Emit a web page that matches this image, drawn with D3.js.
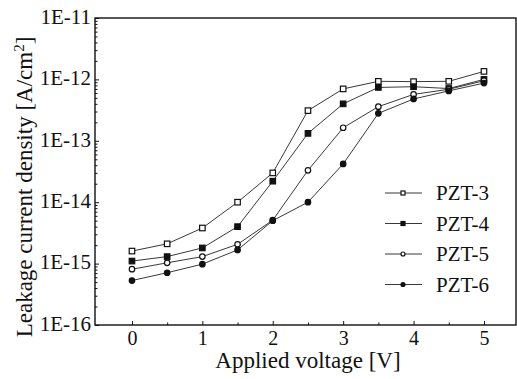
<!DOCTYPE html>
<html>
<head>
<meta charset="utf-8">
<script src="https://cdn.jsdelivr.net/npm/d3@7"></script>
<style>
  body { margin: 0; background: #fff; }
  svg text { font-family: "Liberation Serif", "Times New Roman", serif; fill: #111; }
</style>
</head>
<body>
<div id="chart"></div>
<script>
// Data
const VOLTAGES = [0, 0.5, 1, 1.5, 2, 2.5, 3, 3.5, 4, 4.5, 5];
const PZT3 = [1.6e-15, 2.1e-15, 3.8e-15, 1.0e-14, 3.0e-14, 3.1e-13, 7.0e-13, 9.3e-13, 9.2e-13, 9.3e-13, 1.35e-12];
const PZT4 = [1.1e-15, 1.3e-15, 1.8e-15, 4.0e-15, 2.2e-14, 1.32e-13, 4.0e-13, 7.4e-13, 7.6e-13, 7.1e-13, 1.0e-12];
const PZT5 = [8.1e-16, 1.03e-15, 1.3e-15, 2.06e-15, 5.1e-15, 3.3e-14, 1.63e-13, 3.6e-13, 5.7e-13, 6.9e-13, 9.5e-13];
const PZT6 = [5.3e-16, 7.1e-16, 9.8e-16, 1.67e-15, 5.0e-15, 1.0e-14, 4.2e-14, 2.8e-13, 4.8e-13, 6.5e-13, 8.7e-13];
const SERIES_NAMES = ["PZT-3", "PZT-4", "PZT-5", "PZT-6"];
const X_TICKS = [0, 1, 2, 3, 4, 5];
const Y_TICKS = [1e-16, 1e-15, 1e-14, 1e-13, 1e-12, 1e-11];

const W = 517, H = 379;
const MARGIN = { LEFT: 95, RIGHT: 1, TOP: 18, BOTTOM: 54 };
const PW = W - MARGIN.LEFT - MARGIN.RIGHT;
const PH = H - MARGIN.TOP - MARGIN.BOTTOM;
const SERIF = '"Liberation Serif", "Times New Roman", serif';

const series = [
  { name: SERIES_NAMES[0], values: PZT3, shape: "square", filled: false },
  { name: SERIES_NAMES[1], values: PZT4, shape: "square", filled: true },
  { name: SERIES_NAMES[2], values: PZT5, shape: "circle", filled: false },
  { name: SERIES_NAMES[3], values: PZT6, shape: "circle", filled: true }
];

const svg = d3.select("#chart").append("svg").attr("width", W).attr("height", H);
const g = svg.append("g").attr("transform", `translate(${MARGIN.LEFT},${MARGIN.TOP})`);

const x = d3.scaleLinear().domain([-0.525, 5.455]).range([0, PW]);
const y = d3.scaleLog().domain([1e-16, 1e-11]).range([PH, 0]);

// frame
g.append("rect").attr("width", PW).attr("height", PH)
  .attr("fill", "none").attr("stroke", "#111").attr("stroke-width", 1.4);

// x axis: major ticks with labels, minor at halves, pointing inward
const xAxis = d3.axisBottom(x).tickValues(X_TICKS).tickSize(-4).tickPadding(6).tickFormat(d3.format("d"));
const xg = g.append("g").attr("transform", `translate(0,${PH})`).call(xAxis);
xg.select(".domain").remove();
xg.selectAll("line").attr("stroke", "#111");
xg.selectAll("text").style("font-family", SERIF).style("font-size", "20px").attr("fill", "#111");
const xMinor = g.append("g").attr("transform", `translate(0,${PH})`)
  .call(d3.axisBottom(x).tickValues(X_TICKS.map(d => d + 0.5)).tickSize(-2.5).tickFormat(""));
xMinor.select(".domain").remove();
xMinor.selectAll("line").attr("stroke", "#111");

// y axis: decades labelled, minor log ticks
const yAxis = d3.axisLeft(y).tickValues(Y_TICKS).tickSize(-4).tickPadding(4)
  .tickFormat(d => "1E" + Math.round(Math.log10(d)));
const yg = g.append("g").call(yAxis);
yg.select(".domain").remove();
yg.selectAll("line").attr("stroke", "#111");
yg.selectAll("text").style("font-family", SERIF).style("font-size", "21px").attr("fill", "#111").attr("dy", "0.25em");
const minorY = [];
Y_TICKS.slice(0, -1).forEach(dec => { for (let k = 2; k <= 9; k++) minorY.push(dec * k); });
const yMinor = g.append("g").call(d3.axisLeft(y).tickValues(minorY).tickSize(-2.5).tickFormat(""));
yMinor.select(".domain").remove();
yMinor.selectAll("line").attr("stroke", "#111");

// lines
const line = d3.line().x((d, i) => x(VOLTAGES[i])).y(d => y(d));
series.forEach(s => {
  g.append("path").datum(s.values).attr("d", line)
    .attr("fill", "none").attr("stroke", "#222").attr("stroke-width", 0.9);
});

function drawMarker(sel, s, cx, cy, size) {
  if (s.shape === "square") {
    sel.append("rect").attr("x", cx - size / 2).attr("y", cy - size / 2)
      .attr("width", size).attr("height", size)
      .attr("fill", s.filled ? "#111" : "#fff").attr("stroke", "#111").attr("stroke-width", 1.2);
  } else {
    sel.append("circle").attr("cx", cx).attr("cy", cy).attr("r", size / 2)
      .attr("fill", s.filled ? "#111" : "#fff").attr("stroke", "#111").attr("stroke-width", 1.2);
  }
}

series.forEach(s => {
  const mg = g.append("g");
  s.values.forEach((v, i) => drawMarker(mg, s, x(VOLTAGES[i]), y(v), 5.5));
});

// legend
const legend = svg.append("g");
series.forEach((s, i) => {
  const ly = 193 + i * 30.5;
  legend.append("line").attr("x1", 385).attr("x2", 422).attr("y1", ly).attr("y2", ly)
    .attr("stroke", "#222").attr("stroke-width", 0.9);
  drawMarker(legend, s, 403, ly, 4);
  legend.append("text").attr("x", 436).attr("y", ly).attr("dy", "0.35em")
    .style("font-size", "21px").text(s.name);
});

// axis titles
svg.append("text").attr("x", MARGIN.LEFT + x(2.5)).attr("y", 368)
  .attr("text-anchor", "middle").style("font-size", "23px").text("Applied voltage [V]");

const yt = svg.append("text").attr("transform", "translate(32,187) rotate(-90)")
  .attr("text-anchor", "middle").style("font-size", "23px");
yt.append("tspan").text("Leakage current density [A/cm");
yt.append("tspan").attr("dy", -8).style("font-size", "15px").text("2");
yt.append("tspan").attr("dy", 8).text("]");
</script>
</body>
</html>
